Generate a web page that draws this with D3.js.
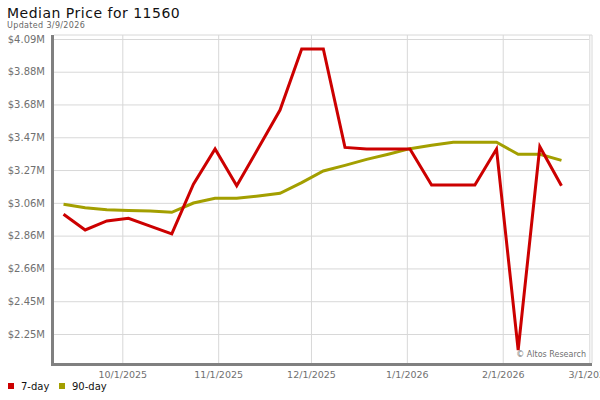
<!DOCTYPE html>
<html>
<head>
<meta charset="utf-8">
<script src="https://cdn.jsdelivr.net/npm/d3@7"></script>
<style>
  body { margin: 0; background: #fff; }
  text { font-family: "DejaVu Sans", sans-serif; }
</style>
</head>
<body>
<div id="chart"></div>
<script>
// data, weekly points starting 9/12/2025
const startDate = "2025-09-12";
const sevenDay = [2.997, 2.899, 2.955, 2.972, 2.923, 2.874, 3.184, 3.404, 3.175, 3.41,
  3.647, 4.028, 4.028, 3.414, 3.404, 3.404, 3.404, 3.179, 3.179, 3.179, 3.404, 2.15, 3.418, 3.175];
const ninetyDay = [3.059, 3.038, 3.025, 3.021, 3.017, 3.009, 3.067, 3.096, 3.096, 3.111,
  3.128, 3.194, 3.267, 3.302, 3.339, 3.371, 3.406, 3.427, 3.446, 3.446, 3.446, 3.371, 3.371, 3.333];
const yTicks = [2.25, 2.4545, 2.659, 2.8636, 3.068, 3.2727, 3.477, 3.6818, 3.886, 4.09];
const yTickLabels = ["$2.25M", "$2.45M", "$2.66M", "$2.86M", "$3.06M", "$3.27M", "$3.47M", "$3.68M", "$3.88M", "$4.09M"];
const xTicks = ["2025-10-01", "2025-11-01", "2025-12-01", "2026-01-01", "2026-02-01", "2026-03-01"];
const seriesNames = ["7-day", "90-day"];
const colors = ["#cc0000", "#a39f00"];

const width = 600, height = 400;
const pLeft = 54, pRight = 592, pTop = 35, pBottom = 363;

const parse = d3.utcParse("%Y-%m-%d");
const fmt = d3.utcFormat("%-m/%-d/%Y");
const dates = sevenDay.map((d, i) => d3.utcDay.offset(parse(startDate), i * 7));

const svg = d3.select("#chart").append("svg")
  .attr("width", width).attr("height", height);

const x = d3.scaleUtc()
  .domain([parse(xTicks[0]), parse(xTicks[xTicks.length - 1])])
  .range([122.3, 589.3]);
const y = d3.scaleLinear()
  .domain([2.25, 4.09])
  .range([334, 39]);

// frame (top + right)
svg.append("path")
  .attr("d", `M${pLeft},${pTop}H${pRight}V${pBottom}`)
  .attr("fill", "none").attr("stroke", "#d8d8d8").attr("stroke-width", 1);

// horizontal grid
svg.append("g")
  .attr("transform", `translate(${pLeft},0)`)
  .call(d3.axisLeft(y).tickValues(yTicks).tickSize(-(pRight - 3 - pLeft)).tickFormat((d, i) => yTickLabels[i]))
  .call(g => g.select(".domain").remove())
  .call(g => g.selectAll(".tick line").attr("stroke", "#d8d8d8"))
  .call(g => g.selectAll(".tick text").attr("x", -9).attr("fill", "#707070")
    .attr("font-size", 10).attr("font-family", "DejaVu Sans"));

// vertical grid + date labels
svg.append("g")
  .attr("transform", `translate(0,${pBottom})`)
  .call(d3.axisBottom(x).tickValues(xTicks.map(parse)).tickSize(-(pBottom - pTop)).tickFormat(fmt))
  .call(g => g.select(".domain").remove())
  .call(g => g.selectAll(".tick line").attr("stroke", "#d8d8d8"))
  .call(g => g.selectAll(".tick text").attr("y", 8).attr("fill", "#707070")
    .attr("font-size", 9.5).attr("font-family", "DejaVu Sans"));

// axis lines
svg.append("path")
  .attr("d", `M${pLeft - 1.5},${pTop}V${pBottom + 1.5}H${pRight}`)
  .attr("fill", "none").attr("stroke", "#808080").attr("stroke-width", 3);

const line = d3.line().x((d, i) => x(dates[i])).y(d => y(d));

[ninetyDay, sevenDay].forEach((s, k) => {
  svg.append("path")
    .datum(s)
    .attr("d", line)
    .attr("fill", "none")
    .attr("stroke", colors[1 - k])
    .attr("stroke-width", 3)
    .attr("stroke-linejoin", "miter");
});

// watermark
svg.append("text")
  .attr("x", 586).attr("y", 357)
  .attr("text-anchor", "end")
  .attr("font-size", 8).attr("fill", "#707070")
  .text("© Altos Research");

// title
svg.append("text").attr("x", 7).attr("y", 18)
  .attr("font-size", 14).attr("letter-spacing", 0.5).attr("fill", "#111")
  .text("Median Price for 11560");
svg.append("text").attr("x", 7).attr("y", 28)
  .attr("font-size", 8).attr("letter-spacing", 0.35).attr("fill", "#666")
  .text("Updated 3/9/2026");

// legend
const leg = svg.append("g").attr("transform", "translate(8,383)");
const legX = [0, 51];
seriesNames.forEach((n, i) => {
  leg.append("rect").attr("x", legX[i]).attr("y", 0).attr("width", 6).attr("height", 6).attr("fill", colors[i]);
  leg.append("text").attr("x", legX[i] + 13).attr("y", 6.5)
    .attr("font-size", 10).attr("fill", "#111").text(n);
});
</script>
</body>
</html>
